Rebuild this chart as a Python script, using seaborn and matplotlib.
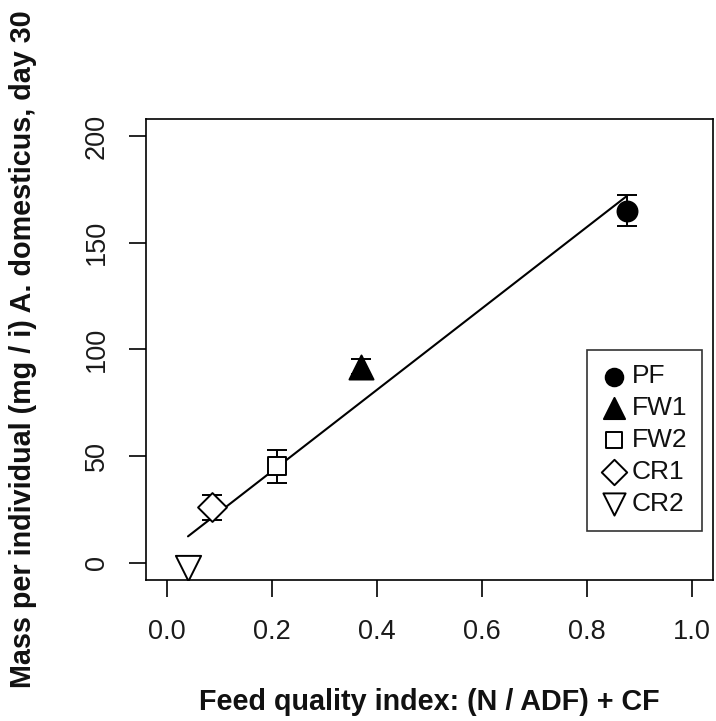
import numpy as np
import pandas as pd
import matplotlib
matplotlib.use("Agg")
import matplotlib.pyplot as plt
import seaborn as sns

# Feed treatments, quality index and mean mass at day 30 (with error)
FEEDS = ["PF", "FW1", "FW2", "CR1", "CR2"]
QUALITY = [0.876, 0.370, 0.210, 0.086, 0.040]
MASS = [165.0, 92.0, 45.3, 26.0, -2.5]
MASS_ERR = [7.2, 3.5, 7.7, 6.0, 0.0]

MARKERS = {"PF": "o", "FW1": "^", "FW2": "s", "CR1": "D", "CR2": "v"}
FILLED = {"PF": True, "FW1": True, "FW2": False, "CR1": False, "CR2": False}
SIZES = {"PF": 207, "FW1": 300, "FW2": 169, "CR1": 216, "CR2": 330}

X_TICKS = [0.0, 0.2, 0.4, 0.6, 0.8, 1.0]
Y_TICKS = [0, 50, 100, 150, 200]


def main():
    df = pd.DataFrame({"feed": FEEDS, "x": QUALITY, "y": MASS, "err": MASS_ERR})

    sns.set_style("ticks")
    plt.rcParams["font.family"] = ["Liberation Sans", "DejaVu Sans"]

    fig = plt.figure(figsize=(7.16, 7.21), dpi=100)
    ax = fig.add_axes([0.2039, 0.1956, 0.7919, 0.6394])

    # linear fit over the data range
    slope, icept = np.polyfit(df["x"], df["y"], 1)
    xs = np.linspace(df["x"].min(), df["x"].max(), 50)
    fit = pd.DataFrame({"x": xs, "y": icept + slope * xs})
    sns.lineplot(data=fit, x="x", y="y", color="black", lw=1.5, ax=ax, legend=False)

    # error bars
    for _, r in df.iterrows():
        if r["err"] > 0:
            ax.errorbar(r["x"], r["y"], yerr=r["err"], fmt="none", ecolor="black",
                        elinewidth=1.4, capsize=7, capthick=1.4, zorder=3)

    for feed in FEEDS:
        sub = df[df["feed"] == feed]
        sns.scatterplot(data=sub, x="x", y="y", marker=MARKERS[feed], s=SIZES[feed],
                        color="black" if FILLED[feed] else "white",
                        edgecolor="black", linewidth=1.4, label=feed, ax=ax, zorder=4)

    ax.set_xlim(-0.04, 1.04)
    ax.set_ylim(-8, 208)
    ax.set_xticks(X_TICKS)
    ax.set_xticklabels([f"{t:.1f}" for t in X_TICKS])
    ax.set_yticks(Y_TICKS)
    ax.set_yticklabels([str(t) for t in Y_TICKS], rotation=90, va="center")
    ax.tick_params(axis="both", labelsize=19.5, length=12, width=1.2, color="black",
                   labelcolor="#1a1a1a")
    ax.tick_params(axis="x", pad=16)
    ax.tick_params(axis="y", pad=14)
    ax.set_xlabel("")
    ax.set_ylabel("")

    for sp in ax.spines.values():
        sp.set_visible(True)
        sp.set_linewidth(1.2)
        sp.set_color("black")

    fig.text(0.5999, 0.0264, "Feed quality index: (N / ADF) + CF", fontsize=20.7,
             fontweight="bold", ha="center", va="center", color="#111111")
    fig.text(0.032, 0.5153, "Mass per individual (mg / i) A. domesticus, day 30",
             fontsize=20.7, fontweight="bold", ha="center", va="center",
             rotation=90, color="#111111")

    leg = ax.legend(loc="upper left", bbox_to_anchor=(0.778, 0.499), borderaxespad=0,
                    fontsize=19, frameon=True, fancybox=False, edgecolor="black",
                    handletextpad=0.25, borderpad=0.55, labelspacing=0.3,
                    handlelength=0.9, markerscale=0.88)
    leg.get_frame().set_linewidth(1.2)
    for t in leg.get_texts():
        t.set_color("#111111")

    fig.savefig("out.png", dpi=100)
    plt.close(fig)


if __name__ == "__main__":
    main()
